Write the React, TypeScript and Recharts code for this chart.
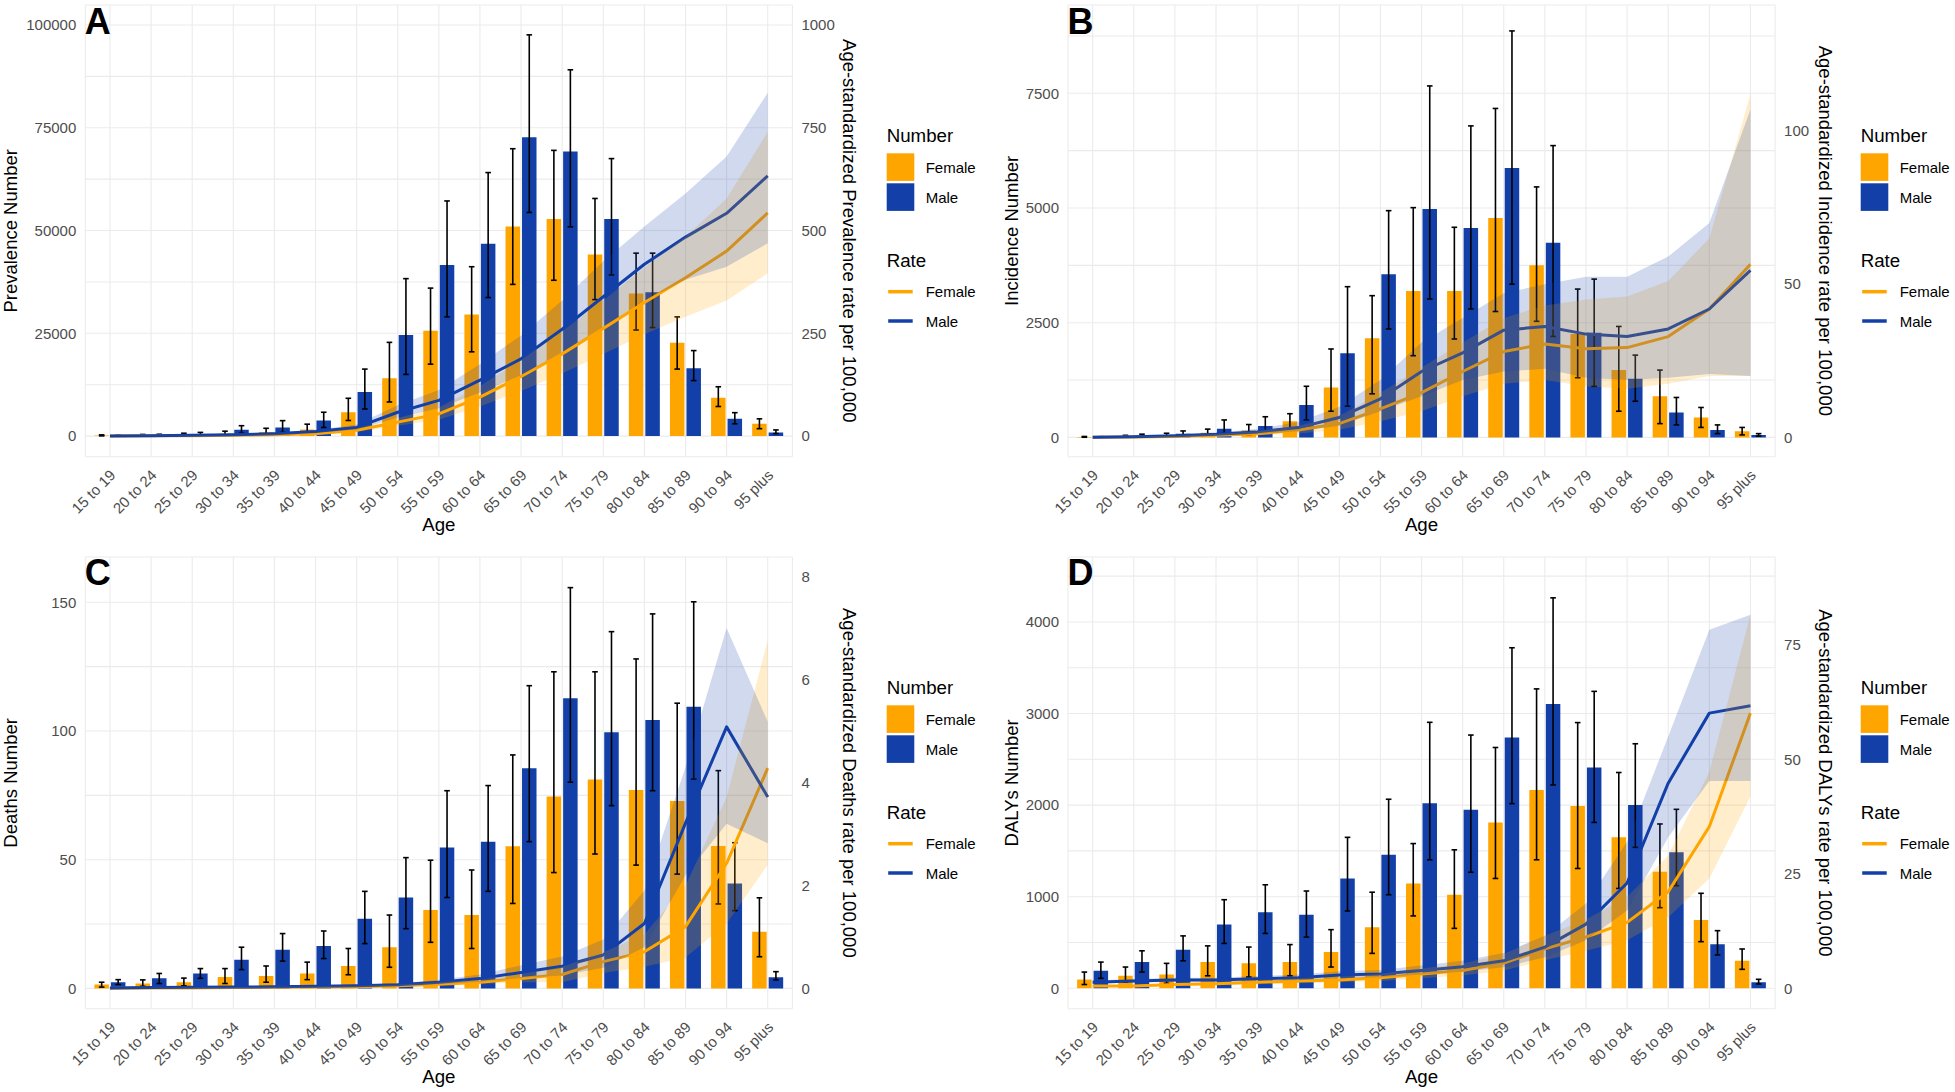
import React from 'react';
import { ComposedChart, Bar, Line, Area, XAxis, YAxis, CartesianGrid, ErrorBar } from 'recharts';

const FONT = '"Liberation Sans", Arial, Helvetica, sans-serif';
const FEMALE = '#FFA500';
const MALE = '#1240A8';

const AGES = ['15 to 19', '20 to 24', '25 to 29', '30 to 34', '35 to 39', '40 to 44', '45 to 49', '50 to 54', '55 to 59', '60 to 64', '65 to 69', '70 to 74', '75 to 79', '80 to 84', '85 to 89', '90 to 94', '95 plus'];

// ---- A: Prevalence ----
const prevFemale = [150, 200, 400, 600, 1000, 1600, 5800, 14100, 25600, 29600, 51000, 52800, 44200, 34700, 22700, 9300, 3000];
const prevFemaleLo = [50, 100, 200, 300, 500, 600, 3800, 8300, 17500, 20500, 36900, 37900, 33200, 25800, 16300, 7200, 1800];
const prevFemaleHi = [300, 400, 700, 1200, 1900, 2900, 9200, 22800, 36000, 41200, 69900, 69500, 57800, 44500, 29000, 12000, 4200];
const prevMale = [100, 250, 500, 1550, 2100, 3800, 10700, 24600, 41600, 46800, 72700, 69200, 52800, 35000, 16500, 4200, 900];
const prevMaleLo = [50, 100, 250, 700, 900, 2100, 6600, 15000, 29000, 33700, 54400, 50900, 39200, 26400, 13500, 3000, 600];
const prevMaleHi = [200, 450, 900, 2530, 3760, 5800, 16300, 38300, 57200, 64100, 97600, 89100, 67500, 44500, 20800, 5700, 1500];
const prevFemaleRate = [0.3, 0.6, 1, 2, 3, 6, 14, 34, 54, 95, 145, 200, 262, 325, 385, 450, 543];
const prevFemaleRateLo = [0.2, 0.4, 0.7, 1.4, 2, 4, 10, 25, 40, 72, 110, 152, 200, 248, 290, 330, 396];
const prevFemaleRateHi = [0.5, 0.9, 1.4, 2.8, 4.2, 8, 19, 44, 70, 122, 185, 255, 330, 410, 485, 578, 740];
const prevMaleRate = [0.5, 1, 2, 3, 6, 11, 21, 58, 87, 136, 188, 260, 339, 418, 484, 542, 633];
const prevMaleRateLo = [0.3, 0.7, 1.4, 2.2, 4.5, 8, 16, 45, 68, 106, 148, 204, 266, 330, 380, 412, 469];
const prevMaleRateHi = [0.8, 1.4, 2.8, 4, 8, 15, 28, 75, 112, 175, 245, 330, 425, 510, 590, 680, 835];

// ---- B: Incidence ----
const incFemale = [10, 25, 50, 100, 150, 350, 1087, 2160, 3192, 3192, 4780, 3750, 2255, 1467, 897, 435, 136];
const incFemaleLo = [3, 10, 20, 40, 60, 180, 570, 950, 1781, 2145, 2744, 2530, 1300, 570, 300, 217, 54];
const incFemaleHi = [20, 45, 90, 180, 280, 516, 1927, 3089, 5008, 4580, 7170, 5460, 3233, 2418, 1467, 652, 217];
const incMale = [8, 40, 80, 190, 250, 706, 1833, 3556, 4979, 4565, 5870, 4240, 2280, 1277, 543, 163, 54];
const incMaleLo = [3, 15, 35, 90, 120, 380, 680, 2363, 3017, 2800, 3340, 2200, 1114, 788, 272, 82, 27];
const incMaleHi = [15, 70, 140, 380, 450, 1114, 3285, 4942, 7661, 6790, 8860, 6360, 3450, 1793, 870, 272, 82];
const incFemaleRate = [0.03, 0.1, 0.3, 0.7, 1.2, 2.4, 4.5, 9.3, 14.6, 21.5, 28, 30.5, 28.9, 29.3, 32.9, 41.9, 56.5];
const incFemaleRateLo = [0.01, 0.05, 0.15, 0.4, 0.7, 1.3, 2.5, 5.3, 8.5, 13.4, 17.5, 18.7, 16.7, 15.9, 17.5, 20, 20];
const incFemaleRateHi = [0.06, 0.2, 0.5, 1.1, 2, 3.8, 7, 14.6, 22.8, 31, 39, 43, 45, 46, 51, 65, 112];
const incMaleRate = [0.05, 0.2, 0.5, 1, 1.8, 3.2, 6.5, 12.6, 21.5, 27.6, 35, 36.2, 33.7, 32.9, 35.4, 41.9, 54.5];
const incMaleRateLo = [0.02, 0.1, 0.3, 0.6, 1.1, 2, 3.8, 8.5, 13.4, 18.7, 21.5, 22.4, 19.5, 18.7, 19.5, 20.7, 20];
const incMaleRateHi = [0.1, 0.3, 0.8, 1.5, 2.8, 5, 10, 18.7, 31, 39, 47, 50, 52.4, 52.4, 59, 70, 107];

// ---- C: Deaths ----
const deathFemale = [1.5, 1.9, 2.4, 4.4, 4.8, 5.8, 8.7, 16, 30.5, 28.5, 55.2, 74.6, 81.2, 77.1, 72.8, 55.3, 22];
const deathFemaleLo = [0.5, 0.8, 1, 1.9, 2.4, 3.4, 5.3, 8.2, 17.9, 15.5, 33, 45, 52.2, 47.9, 44.4, 32.8, 12.3];
const deathFemaleHi = [2.4, 3.3, 4, 7.7, 8.7, 10.2, 15.5, 28.5, 49.8, 46, 90.7, 123, 123, 128, 110.8, 84.6, 35.2];
const deathMale = [2.4, 3.9, 5.8, 11.1, 15, 16.5, 27.1, 35.3, 54.7, 57, 85.5, 112.7, 99.5, 104.3, 109.4, 40.8, 4.3];
const deathMaleLo = [1.5, 1.9, 3.9, 7.3, 10.6, 11.6, 17.4, 23.2, 35.3, 37.7, 57, 80.1, 71, 76.8, 81.3, 30.2, 3.3];
const deathMaleHi = [3.4, 5.8, 7.7, 16, 21.3, 22.3, 37.7, 50.8, 76.8, 78.8, 117.6, 155.7, 138.6, 145.5, 150.2, 56.6, 6.5];
const deathFemaleRate = [0.005, 0.008, 0.01, 0.015, 0.02, 0.025, 0.03, 0.05, 0.08, 0.12, 0.19, 0.27, 0.52, 0.71, 1.2, 2.43, 4.28];
const deathFemaleRateLo = [0.002, 0.004, 0.005, 0.008, 0.01, 0.015, 0.02, 0.03, 0.05, 0.08, 0.12, 0.12, 0.3, 0.42, 0.6, 1.26, 2.4];
const deathFemaleRateHi = [0.01, 0.012, 0.015, 0.022, 0.03, 0.035, 0.045, 0.07, 0.12, 0.17, 0.28, 0.42, 0.7, 1.05, 2.0, 3.72, 6.76];
const deathMaleRate = [0.01, 0.015, 0.02, 0.025, 0.03, 0.04, 0.05, 0.07, 0.12, 0.19, 0.31, 0.43, 0.65, 1.26, 3.21, 5.08, 3.72];
const deathMaleRateLo = [0.005, 0.008, 0.01, 0.015, 0.02, 0.025, 0.035, 0.05, 0.08, 0.13, 0.2, 0.25, 0.4, 0.8, 2.2, 3.2, 2.82];
const deathMaleRateHi = [0.015, 0.02, 0.03, 0.035, 0.045, 0.06, 0.07, 0.1, 0.17, 0.27, 0.45, 0.62, 0.95, 1.9, 4.3, 7.0, 5.18];

// ---- D: DALYs ----
const dalyFemale = [95, 136, 150, 286, 272, 286, 395, 667, 1144, 1021, 1811, 2166, 1989, 1648, 1273, 746, 301];
const dalyFemaleLo = [41, 68, 54, 136, 123, 136, 232, 381, 790, 654, 1199, 1403, 1308, 1090, 880, 509, 207];
const dalyFemaleHi = [177, 232, 272, 463, 450, 477, 640, 1049, 1580, 1512, 2629, 3269, 2901, 2356, 1794, 1037, 429];
const dalyMale = [191, 286, 422, 695, 831, 804, 1199, 1457, 2020, 1948, 2738, 3105, 2411, 2001, 1485, 480, 65];
const dalyMaleLo = [109, 177, 300, 490, 599, 559, 844, 1021, 1403, 1267, 2016, 2220, 1811, 1539, 1120, 364, 47];
const dalyMaleHi = [286, 409, 572, 967, 1130, 1062, 1648, 2064, 2904, 2765, 3718, 4263, 3242, 2670, 1954, 629, 98];
const dalyFemaleRate = [0.5, 0.5, 0.8, 1, 1.3, 1.6, 1.8, 2.3, 3.1, 3.9, 5.5, 8.6, 11.2, 14.4, 21.1, 35.3, 60.1];
const dalyFemaleRateLo = [0.35, 0.35, 0.55, 0.7, 0.9, 1.1, 1.3, 1.6, 2.2, 2.8, 3.9, 6.1, 8.2, 10.5, 15.5, 24, 41.9];
const dalyFemaleRateHi = [0.7, 0.7, 1.1, 1.4, 1.8, 2.2, 2.5, 3.2, 4.3, 5.4, 7.5, 11.5, 15, 20, 29, 47.3, 81.6];
const dalyMaleRate = [1.3, 1.6, 1.8, 1.8, 2.1, 2.3, 2.9, 3.1, 3.9, 4.7, 6, 9, 14, 23, 44.8, 60.1, 61.7];
const dalyMaleRateLo = [1.0, 1.2, 1.4, 1.4, 1.6, 1.8, 2.2, 2.4, 3.0, 3.6, 4.6, 6.8, 10.5, 17, 33, 45.3, 45.3];
const dalyMaleRateHi = [1.7, 2.0, 2.3, 2.3, 2.7, 3.0, 3.7, 4.0, 5.0, 6.0, 7.7, 11.5, 18.5, 32, 55, 78.3, 81.6];

// ---- tick labels ----
const ticksA = [0, 25000, 50000, 75000, 100000];
const gridA = [0, 12500, 25000, 37500, 50000, 62500, 75000, 87500, 100000];
const rTicksA = [0, 250, 500, 750, 1000];
const ticksB = [0, 2500, 5000, 7500];
const gridB = [0, 1250, 2500, 3750, 5000, 6250, 7500, 8750];
const rTicksB = [0, 50, 100];
const ticksC = [0, 50, 100, 150];
const gridC = [0, 25, 50, 75, 100, 125, 150];
const rTicksC = [0, 2, 4, 6, 8];
const ticksD = [0, 1000, 2000, 3000, 4000];
const gridD = [0, 500, 1000, 1500, 2000, 2500, 3000, 3500, 4000, 4500];
const rTicksD = [0, 25, 50, 75];

function buildRows(f: number[], fLo: number[], fHi: number[], m: number[], mLo: number[], mHi: number[],
  fr: number[], frLo: number[], frHi: number[], mr: number[], mrLo: number[], mrHi: number[]) {
  return AGES.map((age, i) => ({
    age,
    female: f[i],
    male: m[i],
    femaleErr: [f[i] - fLo[i], fHi[i] - f[i]],
    maleErr: [m[i] - mLo[i], mHi[i] - m[i]],
    femaleRate: fr[i],
    maleRate: mr[i],
    femaleBand: [frLo[i], frHi[i]],
    maleBand: [mrLo[i], mrHi[i]],
  }));
}

const rowsA = buildRows(prevFemale, prevFemaleLo, prevFemaleHi, prevMale, prevMaleLo, prevMaleHi,
  prevFemaleRate, prevFemaleRateLo, prevFemaleRateHi, prevMaleRate, prevMaleRateLo, prevMaleRateHi);
const rowsB = buildRows(incFemale, incFemaleLo, incFemaleHi, incMale, incMaleLo, incMaleHi,
  incFemaleRate, incFemaleRateLo, incFemaleRateHi, incMaleRate, incMaleRateLo, incMaleRateHi);
const rowsC = buildRows(deathFemale, deathFemaleLo, deathFemaleHi, deathMale, deathMaleLo, deathMaleHi,
  deathFemaleRate, deathFemaleRateLo, deathFemaleRateHi, deathMaleRate, deathMaleRateLo, deathMaleRateHi);
const rowsD = buildRows(dalyFemale, dalyFemaleLo, dalyFemaleHi, dalyMale, dalyMaleLo, dalyMaleHi,
  dalyFemaleRate, dalyFemaleRateLo, dalyFemaleRateHi, dalyMaleRate, dalyMaleRateLo, dalyMaleRateHi);

type Cfg = {
  id: string; ox: number; oy: number; w: number; h: number;
  plot: { l: number; r: number; t: number; b: number };
  rows: any[]; leftDomain: [number, number]; rightDomain: [number, number];
  leftTicks: number[]; gridTicks: number[]; rightTicks: number[];
  leftTitle: string; rightTitle: string; leftTitleX: number; rightTitleX: number; legendX: number; legendY: number;
};

const PANELS: Cfg[] = [
  {
    id: 'A', ox: 0, oy: 0, w: 977, h: 546, plot: { l: 85.3, r: 792.4, t: 5, b: 456.7 }, rows: rowsA,
    leftDomain: [-5011, 104860], rightDomain: [-50.11, 1048.6], leftTicks: ticksA, gridTicks: gridA, rightTicks: rTicksA,
    leftTitle: 'Prevalence Number', rightTitle: 'Age-standardized Prevalence rate per 100,000',
    leftTitleX: 17, rightTitleX: 843, legendX: 886.7, legendY: 0,
  },
  {
    id: 'B', ox: 977, oy: 0, w: 978, h: 546, plot: { l: 1068, r: 1775.1, t: 5, b: 456.7 }, rows: rowsB,
    leftDomain: [-421, 9425], rightDomain: [-6.3, 141.1], leftTicks: ticksB, gridTicks: gridB, rightTicks: rTicksB,
    leftTitle: 'Incidence Number', rightTitle: 'Age-standardized Incidence rate per 100,000',
    leftTitleX: 1018, rightTitleX: 1819, legendX: 1860.7, legendY: 0,
  },
  {
    id: 'C', ox: 0, oy: 546, w: 977, h: 546, plot: { l: 85.3, r: 792.4, t: 557, b: 1008.7 }, rows: rowsC,
    leftDomain: [-7.89, 167.6], rightDomain: [-0.3945, 8.38], leftTicks: ticksC, gridTicks: gridC, rightTicks: rTicksC,
    leftTitle: 'Deaths Number', rightTitle: 'Age-standardized Deaths rate per 100,000',
    leftTitleX: 17, rightTitleX: 843, legendX: 886.7, legendY: 552,
  },
  {
    id: 'D', ox: 977, oy: 546, w: 978, h: 546, plot: { l: 1068, r: 1775.1, t: 557, b: 1008.7 }, rows: rowsD,
    leftDomain: [-223, 4709], rightDomain: [-4.46, 94.2], leftTicks: ticksD, gridTicks: gridD, rightTicks: rTicksD,
    leftTitle: 'DALYs Number', rightTitle: 'Age-standardized DALYs rate per 100,000',
    leftTitleX: 1018, rightTitleX: 1819, legendX: 1860.7, legendY: 552,
  },
];

const AgeTick = (props: any) => {
  const { x, y, payload } = props;
  const ax = x + 6.5;
  const ay = y + 19.5;
  return (
    <text x={ax} y={ay} transform={`rotate(-45 ${ax} ${ay})`} textAnchor="end" fill="#4D4D4D" fontSize={15} fontFamily={FONT}>
      {payload.value}
    </text>
  );
};

function Panel({ cfg }: { cfg: Cfg }) {
  const LW = 60, RW = 50, XH = 60;
  const margin = {
    left: cfg.plot.l - cfg.ox - LW,
    top: cfg.plot.t - cfg.oy,
    right: cfg.ox + cfg.w - cfg.plot.r - RW,
    bottom: cfg.oy + cfg.h - cfg.plot.b - XH,
  };
  const band = (cfg.plot.r - cfg.plot.l) / 17.2;
  const pad = band * 0.1;
  const majors = cfg.leftTicks;
  const tickStyle = { fill: '#4D4D4D', fontSize: 15, fontFamily: FONT };
  return (
    <div style={{ position: 'absolute', left: cfg.ox, top: cfg.oy, width: cfg.w, height: cfg.h }}>
      <ComposedChart width={cfg.w} height={cfg.h} data={cfg.rows} margin={margin} barGap={2}>
        <CartesianGrid yAxisId="left" stroke="#EBEBEB" strokeWidth={1.1} />
        <XAxis dataKey="age" type="category" interval={0} height={XH} tickLine={false} axisLine={false}
          tickSize={0} tickMargin={0} padding={{ left: pad, right: pad }} tick={(p: any) => <AgeTick {...p} />} />
        <YAxis yAxisId="left" orientation="left" type="number" width={LW} domain={cfg.leftDomain} ticks={cfg.gridTicks}
          interval={0} allowDataOverflow axisLine={false} tickLine={false} tickSize={0} tickMargin={9} tick={tickStyle}
          tickFormatter={(v: number) => (majors.indexOf(v) >= 0 ? String(v) : '')} />
        <YAxis yAxisId="right" orientation="right" type="number" width={RW} domain={cfg.rightDomain} ticks={cfg.rightTicks}
          interval={0} allowDataOverflow axisLine={false} tickLine={false} tickSize={0} tickMargin={9} tick={tickStyle} />
        <Bar yAxisId="left" dataKey="female" fill={FEMALE} barSize={14.5} isAnimationActive={false}>
          <ErrorBar dataKey="femaleErr" width={2.8} stroke="#000" strokeWidth={1.6} direction="y" />
        </Bar>
        <Bar yAxisId="left" dataKey="male" fill={MALE} barSize={14.5} isAnimationActive={false}>
          <ErrorBar dataKey="maleErr" width={2.8} stroke="#000" strokeWidth={1.6} direction="y" />
        </Bar>
        <Line yAxisId="right" type="linear" dataKey="femaleRate" stroke={FEMALE} strokeWidth={3} dot={false}
          activeDot={false} strokeLinejoin="round" isAnimationActive={false} />
        <Line yAxisId="right" type="linear" dataKey="maleRate" stroke={MALE} strokeWidth={3} dot={false}
          activeDot={false} strokeLinejoin="round" isAnimationActive={false} />
        <Area yAxisId="right" type="linear" dataKey="femaleBand" fill={FEMALE} fillOpacity={0.2} stroke="none"
          activeDot={false} isAnimationActive={false} {...({ zIndex: 450 } as any)} />
        <Area yAxisId="right" type="linear" dataKey="maleBand" fill={MALE} fillOpacity={0.2} stroke="none"
          activeDot={false} isAnimationActive={false} {...({ zIndex: 450 } as any)} />
      </ComposedChart>
    </div>
  );
}

function Overlay() {
  return (
    <svg width={1955} height={1092} style={{ position: 'absolute', left: 0, top: 0, pointerEvents: 'none' }}>
      {PANELS.map((p) => {
        const cy = (p.plot.t + p.plot.b) / 2;
        const cx = (p.plot.l + p.plot.r) / 2;
        const letterY = p.oy === 0 ? 34 : 584.5;
        const lx = p.legendX;
        const ly = p.legendY;
        return (
          <g key={p.id} fontFamily={FONT}>
            <text x={p.plot.l - 0.5} y={letterY} fontSize={36} fontWeight="bold" fill="#000">{p.id}</text>
            <text x={p.leftTitleX} y={cy} transform={`rotate(-90 ${p.leftTitleX} ${cy})`} textAnchor="middle" fontSize={18.5} fill="#000">{p.leftTitle}</text>
            <text x={p.rightTitleX} y={cy} transform={`rotate(90 ${p.rightTitleX} ${cy})`} textAnchor="middle" fontSize={18.5} fill="#000">{p.rightTitle}</text>
            <text x={cx} y={p.plot.b + 74.3} textAnchor="middle" fontSize={18.7} fill="#000">Age</text>
            <text x={lx} y={ly + 142} fontSize={18.7} fill="#000">Number</text>
            <rect x={lx} y={ly + 153.3} width={27.6} height={27.6} fill={FEMALE} />
            <rect x={lx} y={ly + 183.3} width={27.6} height={27.6} fill={MALE} />
            <text x={lx + 39} y={ly + 173} fontSize={15} fill="#000">Female</text>
            <text x={lx + 39} y={ly + 203} fontSize={15} fill="#000">Male</text>
            <text x={lx} y={ly + 267} fontSize={18.7} fill="#000">Rate</text>
            <line x1={lx + 1.5} x2={lx + 26} y1={ly + 291.7} y2={ly + 291.7} stroke={FEMALE} strokeWidth={3.5} />
            <line x1={lx + 1.5} x2={lx + 26} y1={ly + 321} y2={ly + 321} stroke={MALE} strokeWidth={3.5} />
            <text x={lx + 39} y={ly + 296.5} fontSize={15} fill="#000">Female</text>
            <text x={lx + 39} y={ly + 326.5} fontSize={15} fill="#000">Male</text>
          </g>
        );
      })}
    </svg>
  );
}

export default function App() {
  return (
    <div style={{ position: 'absolute', left: 0, top: 0, width: 1955, height: 1092, background: '#fff', overflow: 'hidden' }}>
      {PANELS.map((p) => <Panel key={p.id} cfg={p} />)}
      <Overlay />
    </div>
  );
}
